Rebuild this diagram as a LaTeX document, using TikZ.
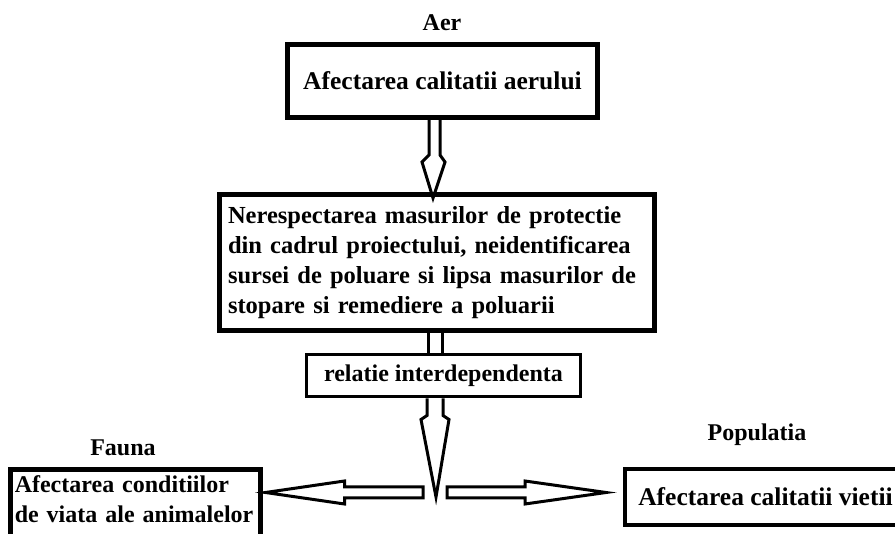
\documentclass[tikz,border=0pt]{standalone}
\usepackage{fontspec}
\setmainfont{Liberation Serif}
\usetikzlibrary{calc}

\begin{document}
\begin{tikzpicture}[x=1pt, y=-1pt,
    box/.style = {draw, line width=5pt, inner sep=0pt, font=\bfseries\fontsize{25.5}{30}\selectfont},
    heading/.style = {font=\bfseries\fontsize{24}{28}\selectfont},
    blk/.style = {line width=3pt, line join=miter}]
            \useasboundingbox (0,0) rectangle (895,534);
            \clip (0,0) rectangle (895,534);
            \node[heading] (tAer) at (442,23) {Aer};
            \node[heading] (tFauna) at (123,448) {Fauna};
            \node[heading] (tPop) at (757,435) {Populatia};
            \node[box, minimum width=310pt, minimum height=73pt] (aer) at (442.5,81) {Afectarea calitatii aerului};
            \node[box, minimum width=435pt, minimum height=136pt, text width=418pt, align=left, inner xsep=8.5pt, font=\bfseries\fontsize{24.5}{30}\selectfont] (cauze) at (437,262.5) {Nerespectarea~masurilor~de~protectie\\ din~cadrul~proiectului,~neidentificarea\\ sursei~de~poluare~si~lipsa~masurilor~de\\ stopare~si~remediere~a~poluarii};
            \node[box, line width=3pt, minimum width=274pt, minimum height=42pt, font=\bfseries\fontsize{24}{28}\selectfont] (relatie) at (443.5,376) {relatie interdependenta};
            \node[box, anchor=north, text width=241pt, align=left, inner xsep=4.25pt, inner ysep=6pt, text depth=80pt, font=\bfseries\fontsize{24}{30}\selectfont] (fauna) at (135.25,467.5) {\mbox{Afectarea conditiilor}\\ \mbox{de viata ale animalelor}};
            \node[box, line width=4pt, minimum width=281pt, minimum height=56pt] (populatia) at (765.5,497) {Afectarea calitatii vietii};
            \coordinate (hub) at (436,492.5);
            \coordinate (b1) at ($(cauze.south)+(-9,0)$);
            \coordinate (b2) at ($(cauze.south)+(5,0)$);
            \coordinate (lt) at ($(fauna.east |- hub)+(3,0)$);
            \coordinate (rt) at ($(populatia.west |- hub)+(-17,0)$);
            \draw[blk] ($(aer.south)+(-13.5,0)$) -- ++(0,35) -- ++(-7,7) -- ($(cauze.north)+(-4,6)$) -- ($(aer.south)+(2.5,42)$) -- ++(-5,-7) -- ++(0,-35);
            \draw[blk] (b1) -- (b1 |- relatie.north);
            \draw[blk] (b2) -- (b2 |- relatie.north);
            \draw[blk] ($(relatie.south)+(-16.5,0)$) -- ++(0,17) -- ++(-6,4) -- ($(hub)+(0,4.5)$) -- ($(relatie.south)+(5.5,21)$) -- ++(-6,-4) -- ++(0,-17);
            \draw[blk] ($(hub)+(-13,-5.5)$) -- ($(lt)+(79,-5.5)$) -- ($(lt)+(79,-11.5)$) -- (lt) -- ($(lt)+(79,11.5)$) -- ($(lt)+(79,5.5)$) -- ($(hub)+(-13,5.5)$) -- cycle;
            \draw[blk] ($(hub)+(11,-5.5)$) -- ($(rt)+(-81,-5.5)$) -- ($(rt)+(-81,-11.5)$) -- (rt) -- ($(rt)+(-81,11.5)$) -- ($(rt)+(-81,5.5)$) -- ($(hub)+(11,5.5)$) -- cycle;
        \end{tikzpicture}
\end{document}
